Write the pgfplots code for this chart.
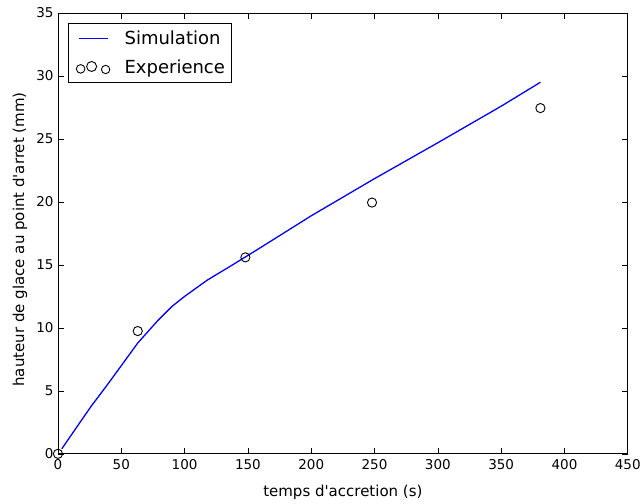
\documentclass[border=0pt]{standalone}
\usepackage{pgfplots}
\pgfplotsset{compat=1.18}
\usepackage{fontspec}
\setmainfont{DejaVu Sans}
\begin{document}
\begin{tikzpicture}
\begin{axis}[
  scale only axis, width=570pt, height=441pt,
  xmin=0, xmax=450, ymin=0, ymax=35,
  xtick={0,50,...,450}, ytick={0,5,...,35},
  tick align=inside, major tick length=6pt,
  every tick/.style={black, line width=0.6pt},
  axis line style={line width=0.9pt},
  font=\fontsize{15}{18}\selectfont,
  tick label style={font=\fontsize{13.5}{16}\selectfont},
  /pgf/number format/assume math mode=true,
  xticklabel style={yshift=-2pt},
  yticklabel style={xshift=-1pt},
  xlabel={temps d\textquotesingle accretion (s)},
  ylabel={hauteur de glace au point d\textquotesingle arret (mm)},
  xlabel style={at={([yshift=-39pt]axis description cs:0.5,0)}, anchor=center},
  ylabel style={at={([xshift=-38pt,yshift=-6pt]axis description cs:0,0.5)}, anchor=center},
  legend style={at={([xshift=9.7pt,yshift=-10pt]rel axis cs:0,1)}, anchor=north west,
    draw=black, line width=0.9pt,
    font=\fontsize{18}{21}\selectfont, inner xsep=4.5pt, inner ysep=5.5pt, row sep=9.5pt,
    /tikz/every odd column/.append style={column sep=0pt}},
  legend cell align=left,
]
\addplot[blue, line width=1.3pt,
  legend image code/.code={
    \path[draw=none,fill=none] (0pt,0pt) rectangle (50pt,0.1pt);
    \draw[blue, line width=1.3pt] (6pt,0pt) -- (35pt,0pt);
  }] coordinates {
(3,0.4) (15,2.15) (26,3.75) (38,5.35) (50,7.0) (63,8.8) (79,10.6) (90,11.7) (100,12.5)
(118,13.8) (137,14.95) (158,16.25) (200,18.9) (250,21.85) (300,24.7) (350,27.6) (381,29.5)};
\addlegendentry{Simulation}
\addplot[only marks, mark=o, mark size=4.6pt, black, mark options={fill=white, line width=0.9pt},
  legend image code/.code={
    \path[draw=none,fill=none] (0pt,0pt) rectangle (50pt,0.1pt);
    \draw[black, line width=0.9pt, fill=white] (8pt,-1.7pt) circle (4.3pt);
    \draw[black, line width=0.9pt, fill=white] (19pt,0.7pt) circle (5pt);
    \draw[black, line width=0.9pt, fill=white] (33pt,-2.3pt) circle (4.2pt);
  }] coordinates {(0,0) (63,9.75) (148,15.6) (248,19.95) (381,27.45)};
\addlegendentry{Experience}
\end{axis}
\path (-58pt,-47pt) rectangle (586pt,454pt);
\end{tikzpicture}
\end{document}
